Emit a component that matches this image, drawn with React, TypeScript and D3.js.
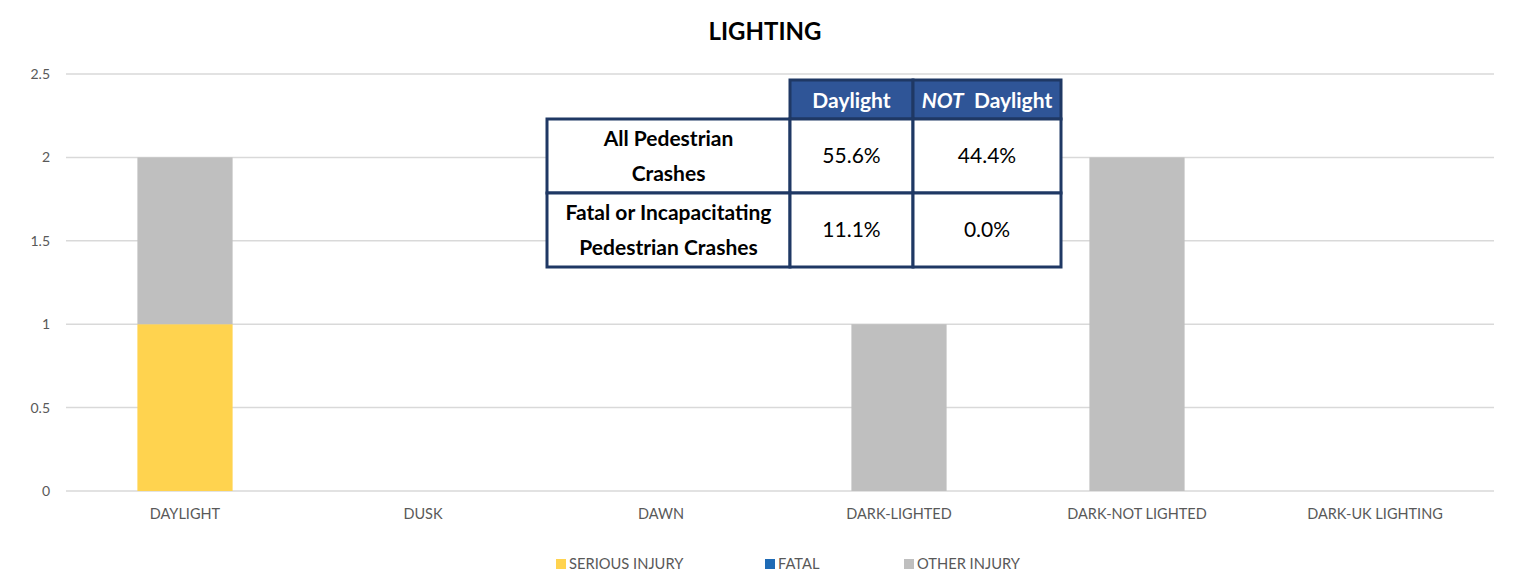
import React from 'react'
import * as d3 from 'd3';

const width = 1533;
const height = 581;
const margin = { top: 74, right: 39, bottom: 90, left: 66 };

const categories = ["DAYLIGHT", "DUSK", "DAWN", "DARK-LIGHTED", "DARK-NOT LIGHTED", "DARK-UK LIGHTING"];
const seriousInjury = [1, 0, 0, 0, 0, 0];
const fatal = [0, 0, 0, 0, 0, 0];
const otherInjury = [1, 0, 0, 1, 2, 0];
const yTicks = [0, 0.5, 1, 1.5, 2, 2.5];

const seriesNames = ["SERIOUS INJURY", "FATAL", "OTHER INJURY"];
const seriesColors = ["#FFD34F", "#1F6BB5", "#BFBFBF"];

const tableHeader = ["Daylight", "Daylight"];
const tableRows = [
  { label: ["All Pedestrian", "Crashes"], values: ["55.6%", "44.4%"] },
  { label: ["Fatal or Incapacitating", "Pedestrian Crashes"], values: ["11.1%", "0.0%"] },
];

const font = "Lato, 'Open Sans', sans-serif";

function App() {
  const innerW = width - margin.left - margin.right;
  const innerH = height - margin.top - margin.bottom;

  const x = d3.scaleBand().domain(categories).range([0, innerW]).paddingInner(0.6).paddingOuter(0.3);
  const y = d3.scaleLinear().domain([0, 2.5]).range([innerH, 0]);

  const rows = categories.map((c, i) => ({ cat: c, values: [seriousInjury[i], fatal[i], otherInjury[i]] }));
  const stacked = d3.stack<any>()
    .keys([0, 1, 2] as any)
    .value((d: any, k: any) => d.values[k])(rows as any);

  // table geometry
  const colX = [547, 790, 913, 1061];
  const rowY = [80, 119, 193, 267];
  const navy = "#1F3864";
  const headBlue = "#2F5597";

  return (
    <svg width={width} height={height} style={{ position: "absolute", left: 0, top: 0, fontFamily: font }}>
      <rect width={width} height={height} fill="white" />
      <text x={765} y={40} textAnchor="middle" fontSize={24} fontWeight="bold" fill="#000">LIGHTING</text>
      <g transform={`translate(${margin.left},${margin.top})`}>
        {yTicks.map((t) => (
          <g key={t}>
            <line x1={0} x2={innerW} y1={y(t)} y2={y(t)} stroke="#D9D9D9" strokeWidth={1.5} />
            <text x={-16} y={y(t)} dy="0.35em" textAnchor="end" fontSize={14} fill="#595959">{t}</text>
          </g>
        ))}
        {stacked.map((s, si) => (
          <g key={si} fill={seriesColors[si]}>
            {s.map((d, i) => (
              d[1] - d[0] > 0 ? (
                <rect key={i} x={x(categories[i])} y={y(d[1])} width={x.bandwidth()} height={y(d[0]) - y(d[1])} />
              ) : null
            ))}
          </g>
        ))}
        {categories.map((c) => (
          <text key={c} x={(x(c) as number) + x.bandwidth() / 2} y={innerH + 28} textAnchor="middle" fontSize={14.5} fill="#595959">{c}</text>
        ))}
      </g>

      {/* summary table */}
      <g>
        <rect x={colX[1]} y={rowY[0]} width={colX[2] - colX[1]} height={rowY[1] - rowY[0]} fill={headBlue} stroke={navy} strokeWidth={3} />
        <rect x={colX[2]} y={rowY[0]} width={colX[3] - colX[2]} height={rowY[1] - rowY[0]} fill={headBlue} stroke={navy} strokeWidth={3} />
        <text x={(colX[1] + colX[2]) / 2} y={(rowY[0] + rowY[1]) / 2 + 1} dy="0.35em" textAnchor="middle" fontSize={21} fontWeight="bold" fill="white">{tableHeader[0]}</text>
        <text x={(colX[2] + colX[3]) / 2} y={(rowY[0] + rowY[1]) / 2 + 1} dy="0.35em" textAnchor="middle" fontSize={21} fontWeight="bold" fill="white">
          <tspan fontStyle="italic">NOT</tspan>{"\u00a0\u00a0"}{tableHeader[1]}
        </text>
        {tableRows.map((r, ri) => {
          const y0 = rowY[ri + 1];
          const y1 = rowY[ri + 2];
          const cy = (y0 + y1) / 2;
          return (
            <g key={ri}>
              {[0, 1, 2].map((ci) => (
                <rect key={ci} x={colX[ci]} y={y0} width={colX[ci + 1] - colX[ci]} height={y1 - y0} fill="white" stroke={navy} strokeWidth={3} />
              ))}
              <text x={(colX[0] + colX[1]) / 2} y={cy - 17} dy="0.35em" textAnchor="middle" fontSize={21} fontWeight="bold" fill="#000">{r.label[0]}</text>
              <text x={(colX[0] + colX[1]) / 2} y={cy + 18} dy="0.35em" textAnchor="middle" fontSize={21} fontWeight="bold" fill="#000">{r.label[1]}</text>
              {r.values.map((v, vi) => (
                <text key={vi} x={(colX[vi + 1] + colX[vi + 2]) / 2} y={cy} dy="0.35em" textAnchor="middle" fontSize={21} fill="#000">{v}</text>
              ))}
            </g>
          );
        })}
      </g>

      {/* legend */}
      <g fontSize={14.7} fill="#595959">
        {seriesNames.map((n, i) => {
          const lx = [556, 765, 904][i];
          return (
            <g key={n} transform={`translate(${lx},559)`}>
              <rect width={10} height={10} fill={seriesColors[i]} />
              <text x={13} y={5} dy="0.35em">{n}</text>
            </g>
          );
        })}
      </g>
    </svg>
  );
}

export default App;
